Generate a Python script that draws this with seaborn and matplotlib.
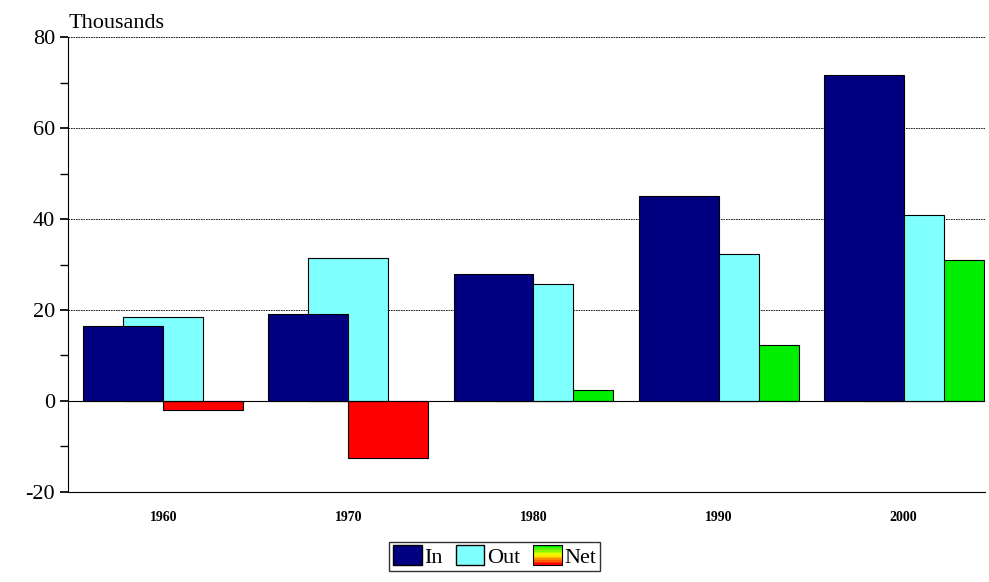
import matplotlib
matplotlib.use("Agg")
import matplotlib.pyplot as plt
from matplotlib.legend_handler import HandlerBase
from matplotlib.patches import Rectangle
import matplotlib.colors as mcolors
import numpy as np
import seaborn as sns

years = ["1960", "1970", "1980", "1990", "2000"]
inflow = [16.5, 19.2, 28.0, 45.0, 71.8]
outflow = [18.5, 31.5, 25.7, 32.3, 40.8]
net = [-2.0, -12.5, 2.3, 12.3, 31.0]

sns.set_theme(style="white")
plt.rcParams['font.family'] = ['Liberation Serif', 'DejaVu Serif']
plt.rcParams['axes.unicode_minus'] = False
plt.rcParams['text.color'] = 'black'
plt.rcParams['xtick.color'] = 'black'
plt.rcParams['ytick.color'] = 'black'

fig = plt.figure(figsize=(9.89, 5.82), dpi=100)
ax = fig.add_axes([0.069, 0.155, 0.927, 0.781])

x = np.arange(len(years))
w = 0.432
net_cols = ["#ff0000" if v < 0 else "#00ee00" for v in net]
ax.bar(x, net, w, align="edge", color=net_cols, edgecolor="black", linewidth=0.8, zorder=2)
ax.bar(x, outflow, w, align="center", color="#80ffff", edgecolor="black", linewidth=0.8, zorder=3)
ax.bar(x - w, inflow, w, align="edge", color="#000080", edgecolor="black", linewidth=0.8, zorder=4)
ax.axhline(0, color="black", linewidth=0.8, zorder=5)

ax.set_xlim(-0.514, 4.44)
ax.set_ylim(-20, 80)
ax.set_xticks(x)
ax.set_xticklabels(years, fontsize=10, fontweight="bold")
ax.set_yticks([-20, 0, 20, 40, 60, 80])
ax.set_yticks(np.arange(-20, 81, 10), minor=True)
ax.tick_params(axis="y", which="both", direction="out", left=True, length=6, labelsize=16)
ax.tick_params(axis="x", bottom=False, pad=8)
for v in [20, 40, 60, 80]:
    ax.axhline(v, color="black", linewidth=0.6, linestyle=(0, (2, 1)), zorder=1)
for s in ax.spines.values():
    s.set_color("black")
    s.set_linewidth(0.8)
ax.spines["right"].set_visible(False)
ax.spines["top"].set_visible(False)
ax.text(0.0, 1.01, "Thousands", transform=ax.transAxes, fontsize=16, ha="left", va="bottom")


class GradientHandler(HandlerBase):
    def create_artists(self, legend, orig, xd, yd, width, height, fontsize, trans):
        cmap = mcolors.LinearSegmentedColormap.from_list("g", ["#ff0000", "#ffff00", "#00ee00"])
        n = 12
        arts = []
        for i in range(n):
            arts.append(Rectangle((-xd, -yd + height * i / n), width, height / n,
                                  facecolor=cmap(i / (n - 1)), edgecolor="none", transform=trans))
        arts.append(Rectangle((-xd, -yd), width, height, facecolor="none", edgecolor="black",
                              linewidth=0.8, transform=trans))
        return arts


h_in = Rectangle((0, 0), 1, 1, facecolor="#000080", edgecolor="black")
h_out = Rectangle((0, 0), 1, 1, facecolor="#80ffff", edgecolor="black")
h_net = Rectangle((0, 0), 1, 1)
leg = fig.legend([h_in, h_out, h_net], ["In", "Out", "Net"], loc="lower center",
                 bbox_to_anchor=(0.5, 0.0), ncol=3, fontsize=16, frameon=True,
                 fancybox=False, edgecolor="black", handlelength=1.3, handleheight=1.0,
                 handletextpad=0.1, columnspacing=0.6, borderpad=0.15,
                 handler_map={h_net: GradientHandler()})
leg.get_frame().set_linewidth(1.0)

fig.savefig("out.png", dpi=100)
